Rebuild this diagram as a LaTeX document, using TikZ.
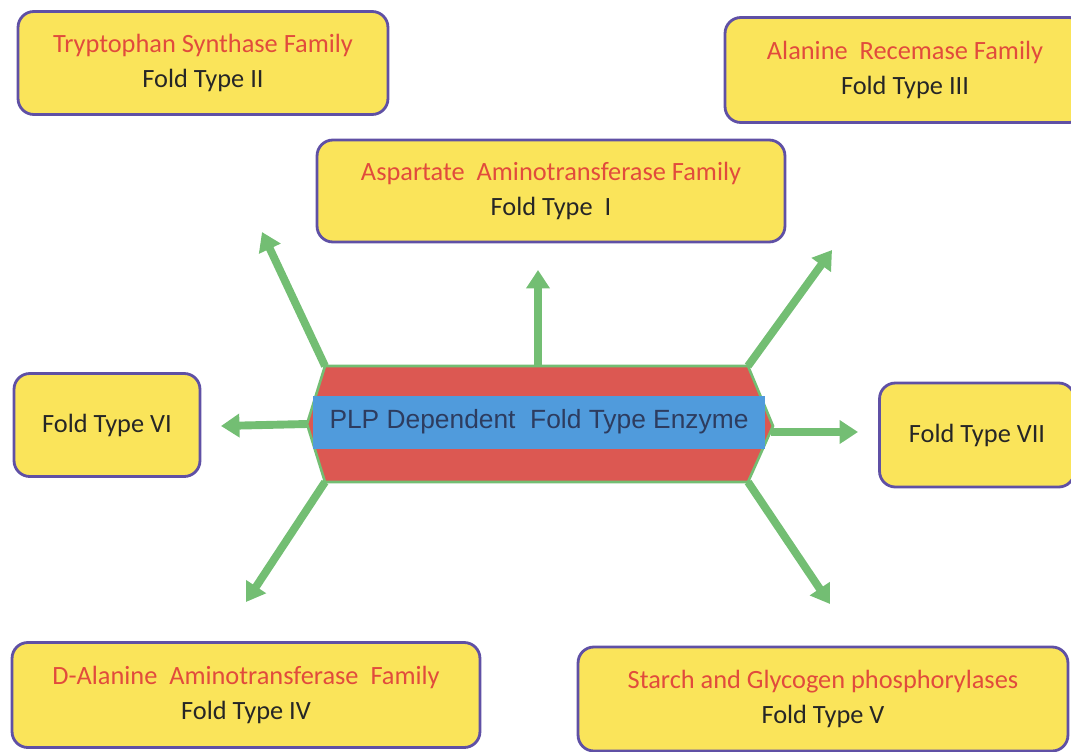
\documentclass[tikz,border=0pt]{standalone}
\usepackage{fontspec}
\setmainfont{Carlito}
\newfontfamily\arialfont{Liberation Sans}
\usetikzlibrary{arrows.meta}

\definecolor{boxyellow}{RGB}{250,228,90}
\definecolor{boxpurple}{RGB}{95,80,165}
\definecolor{famred}{RGB}{225,75,60}
\definecolor{hexred}{RGB}{220,88,82}
\definecolor{bandblue}{RGB}{80,155,220}
\definecolor{arrowgreen}{RGB}{115,190,115}
\definecolor{plptext}{RGB}{45,60,95}

\tikzset{
  foldbox/.style={rectangle, rounded corners=9pt, draw=boxpurple, line width=1.6pt,
    fill=boxyellow, align=center, text=black!85,
    font=\fontsize{15}{20}\selectfont},
  foldarrow/.style={draw=arrowgreen, line width=4.5pt,
    -{Triangle[width=13pt,length=10.5pt]}}
}

\begin{document}
\begin{tikzpicture}[x=0.02cm, y=-0.02cm]
  \useasboundingbox (0,0) rectangle (1071,751);
  % families
  \node (tryp) [foldbox, minimum width=7.4cm, minimum height=2.06cm] at (203,63)
    {\textcolor{famred}{Tryptophan Synthase Family}\\Fold Type II};
  \node (alan) [foldbox, minimum width=7.2cm, minimum height=2.1cm] at (905,70)
    {\textcolor{famred}{Alanine\ \ Recemase Family}\\Fold Type III};
  \node (aspa) [foldbox, minimum width=9.36cm, minimum height=2.04cm] at (551,191)
    {\textcolor{famred}{Aspartate\ \ Aminotransferase Family}\\Fold Type\ \ I};
  \node (six) [foldbox, minimum width=3.72cm, minimum height=2.06cm] at (107,425)
    {Fold Type VI};
  \node (seven) [foldbox, minimum width=3.9cm, minimum height=2.08cm] at (977,435)
    {Fold Type VII};
  \node (dala) [foldbox, minimum width=9.36cm, minimum height=2.1cm] at (246,695)
    {\textcolor{famred}{D-Alanine\ \ Aminotransferase\ \ Family}\\Fold Type IV};
  \node (starch) [foldbox, minimum width=9.8cm, minimum height=2.08cm] at (823,699)
    {\textcolor{famred}{Starch and Glycogen phosphorylases}\\Fold Type V};

  % corners of the enzyme block
  \coordinate (tl) at (325,366);
  \coordinate (tm) at (538,366);
  \coordinate (tr) at (748,366);
  \coordinate (rp) at (773,426);
  \coordinate (rm) at (771,432);
  \coordinate (br) at (748,482);
  \coordinate (bl) at (325,482);
  \coordinate (lp) at (307,424);

  % arrow ends
  \coordinate (upleft) at (262,232);
  \coordinate (up) at (538,270);
  \coordinate (upright) at (832,250);
  \coordinate (left) at (221,426);
  \coordinate (right) at (858,432);
  \coordinate (downleft) at (246,602);
  \coordinate (downright) at (830,604);

  \draw[foldarrow] (tl) -- (upleft);
  \draw[foldarrow] (tm) -- (up);
  \draw[foldarrow] (tr) -- (upright);
  \draw[foldarrow] (lp) -- (left);
  \draw[foldarrow] (rm) -- (right);
  \draw[foldarrow] (bl) -- (downleft);
  \draw[foldarrow] (br) -- (downright);

  \filldraw[fill=hexred, draw=arrowgreen, line width=1.5pt]
    (tl) -- (tr) -- (rp) -- (br) -- (bl) -- (lp) -- cycle;
  \node (enzyme) [fill=bandblue, minimum width=9.04cm, minimum height=1.06cm,
    text=plptext, font=\arialfont\fontsize{15}{18}\selectfont] at (539,422)
    {PLP Dependent\ \ Fold Type Enzyme};
\end{tikzpicture}
\end{document}
